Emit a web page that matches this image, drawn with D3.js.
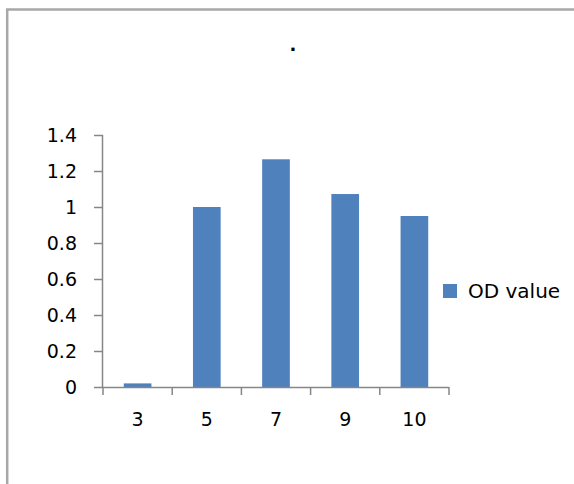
<!DOCTYPE html>
<html>
<head>
<meta charset="utf-8">
<script src="https://cdn.jsdelivr.net/npm/d3@7"></script>
<style>
body{margin:0;background:#fff;}
text{font-family:"DejaVu Sans",Verdana,sans-serif;fill:#000;}
</style>
</head>
<body>
<div id="plot"></div>
<script>
// chart data
var categories = ['3','5','7','9','10'];
var odValues = [0.02, 1.0, 1.265, 1.072, 0.95];
var yTicks = [0, 0.2, 0.4, 0.6, 0.8, 1, 1.2, 1.4];
var seriesName = 'OD value';

var width = 574, height = 484;

var svg = d3.select('#plot')
	.append('svg')
	.attr('width', width)
	.attr('height', height);

// outer frame (only top and left edge visible)
svg.append('rect')
	.attr('x', 7.2).attr('y', 9.5)
	.attr('width', 600).attr('height', 520)
	.style('fill', 'none')
	.style('stroke', '#a8a8a8')
	.style('stroke-width', 2.5);

// title
svg.append('text')
	.attr('x', 293).attr('y', 51)
	.attr('text-anchor', 'middle')
	.style('font-size', '18px')
	.style('font-weight', 'bold')
	.text('.');

var x = d3.scaleBand()
	.domain(categories)
	.range([103, 449])
	.padding(0);

var y = d3.scaleLinear()
	.domain([0, 1.4])
	.range([387, 135]);

var barW = x.bandwidth() * 0.4;

// bars
svg.selectAll('rect.bar')
	.data(odValues)
	.enter()
	.append('rect')
	.attr('class', 'bar')
	.attr('x', function(d, i){ return x(categories[i]) + x.bandwidth()/2 - barW/2; })
	.attr('y', function(d){ return y(d); })
	.attr('width', barW)
	.attr('height', function(d){ return y(0) - y(d); })
	.style('fill', '#4f81bd');

// y axis
var yAxis = svg.append('g')
	.attr('transform', 'translate(103,0)')
	.call(d3.axisLeft(y).tickValues(yTicks).tickSize(9).tickPadding(17)
		.tickFormat(function(d){ return d3.format('')(+d.toFixed(1)); }));

// x axis
var xAxis = svg.append('g')
	.attr('transform', 'translate(0,387)')
	.call(d3.axisBottom(x).tickSize(0));
xAxis.selectAll('.tick text').attr('dy', null).attr('y', 39);

// x axis tick marks on category boundaries
xAxis.selectAll('line.sep')
	.data(d3.range(categories.length + 1))
	.enter()
	.append('line')
	.attr('class', 'sep')
	.attr('x1', function(i){ return 103 + i * x.step(); })
	.attr('x2', function(i){ return 103 + i * x.step(); })
	.attr('y1', 0).attr('y2', 8);

svg.selectAll('.domain, .tick line, line.sep')
	.style('stroke', '#868686')
	.style('stroke-width', 1.5);
xAxis.select('.domain').attr('d', 'M103,0.5H449');
yAxis.select('.domain').attr('d', 'M-0.5,135V387');

svg.selectAll('.tick text')
	.style('font-family', '"DejaVu Sans",Verdana,sans-serif')
	.style('font-size', '19px')
	.style('fill', '#000');

// legend
var legend = svg.append('g').attr('transform', 'translate(443,284)');
legend.append('rect')
	.attr('width', 14).attr('height', 14)
	.style('fill', '#4f81bd');
legend.append('text')
	.attr('x', 25).attr('y', 14)
	.style('font-size', '20px')
	.text(seriesName);
</script>
</body>
</html>
